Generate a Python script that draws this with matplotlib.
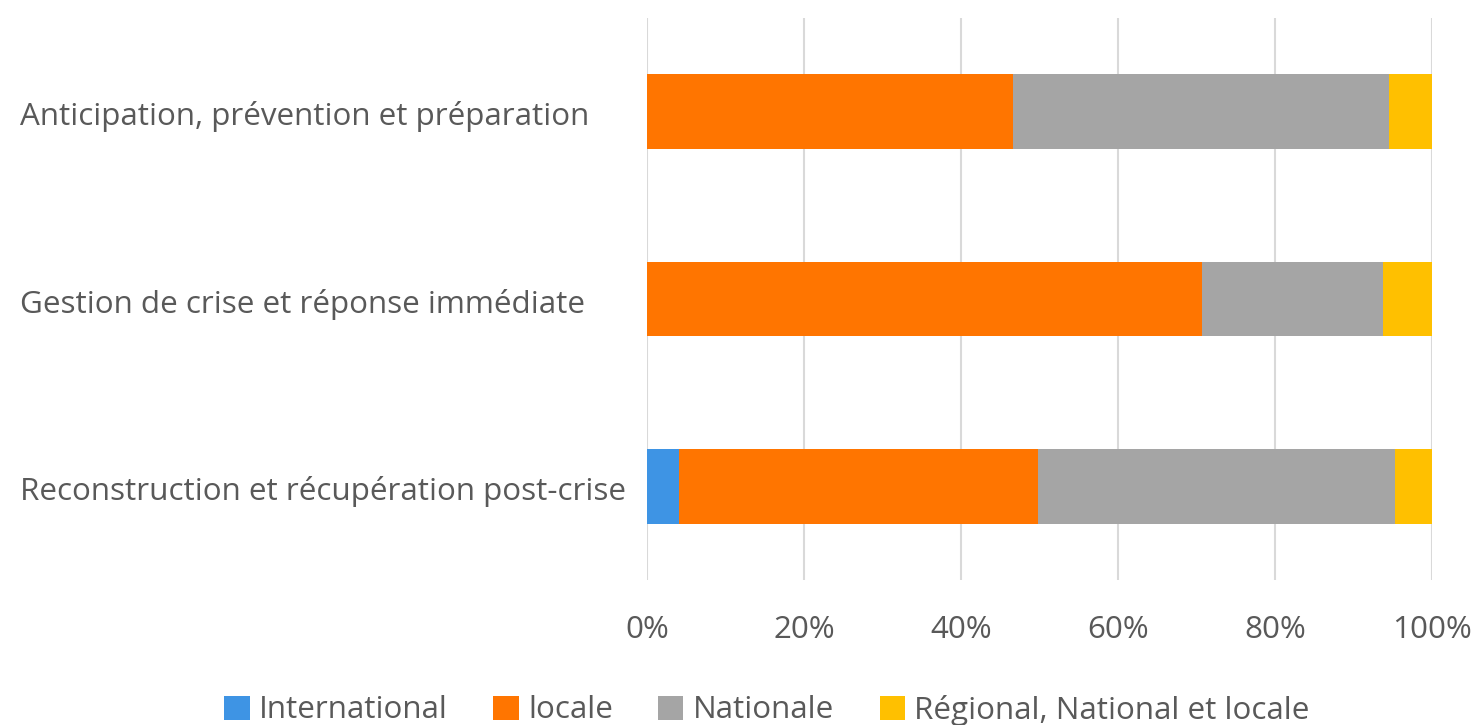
import matplotlib
matplotlib.use("Agg")
import matplotlib.pyplot as plt
import matplotlib.transforms as mtransforms
import numpy as np

categories = ["Anticipation, prévention et préparation",
              "Gestion de crise et réponse immédiate",
              "Reconstruction et récupération post-crise"]
series_names = ["International", "locale", "Nationale", "Régional, National et locale"]
international = [0.0, 0.0, 4.1]
locale = [46.6, 70.7, 45.7]
nationale = [47.9, 23.1, 45.5]
regional = [5.5, 6.2, 4.7]
xticks = [0, 20, 40, 60, 80, 100]
xtick_labels = ["0%", "20%", "40%", "60%", "80%", "100%"]
colors = ["#3E94E4", "#FF7500", "#A5A5A5", "#FFC000"]

plt.rcParams['font.family'] = ['Open Sans', 'DejaVu Sans']
text_color = "#595959"
fs = 22.6

fig = plt.figure(figsize=(14.76, 7.25), dpi=100)
W, H = 1476, 725
ax = fig.add_axes([647 / W, 1 - 580 / H, (1432 - 647) / W, (580 - 18) / H])

data = [international, locale, nationale, regional]
y = np.arange(len(categories))
left = np.zeros(len(categories))
for vals, name, c in zip(data, series_names, colors):
    vals = np.array(vals)
    ax.barh(y, vals, left=left, height=0.4, color=c, label=name, zorder=3)
    left += vals

ax.set_ylim(len(categories) - 0.5, -0.5)
ax.set_xlim(0, 100)
ax.set_xticks(xticks)
ax.set_xticklabels(xtick_labels, fontsize=fs, color=text_color)
ax.set_yticks(y)
ax.set_yticklabels(categories, fontsize=fs, color=text_color, ha='left', va='center')
ax.tick_params(axis='y', length=0, pad=(647 - 20) * 72 / 100)
ax.tick_params(axis='x', length=0, pad=(615 - 580) * 72 / 100)
offset = mtransforms.ScaledTranslation(0, -5 / 100, fig.dpi_scale_trans)
for lbl in ax.get_yticklabels():
    lbl.set_transform(lbl.get_transform() + offset)
ax.grid(axis='x', color='#D9D9D9', linewidth=1.5, zorder=0)
for s in ax.spines.values():
    s.set_visible(False)

handles, labels = ax.get_legend_handles_labels()
fig.legend(handles, labels, loc='center', bbox_to_anchor=(767 / W, 1 - 710 / H),
           ncol=4, frameon=False, fontsize=fs, labelcolor=text_color,
           handlelength=0.8, handleheight=0.8, handletextpad=0.3, columnspacing=1.45,
           borderpad=0, borderaxespad=0)

fig.savefig("out.png", dpi=100)
